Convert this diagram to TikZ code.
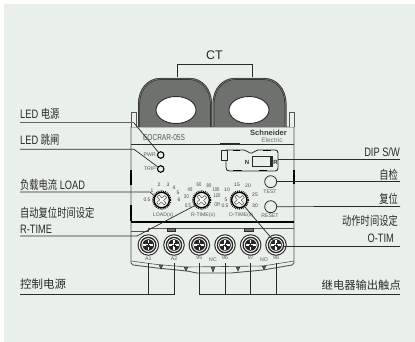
\documentclass[tikz,border=0pt]{standalone}
\usepackage{fontspec}
\usetikzlibrary{shapes.geometric}
\setmainfont{Liberation Sans}
\newfontfamily\cjk{Noto Sans CJK SC}
\definecolor{bgc}{HTML}{E9EFE9}
\definecolor{ctfill}{HTML}{6F716F}
\definecolor{ink}{HTML}{2A2A2A}
\newcommand{\nar}[1]{\scalebox{0.82}[1.08]{#1}}
\tikzset{
  lead/.style={draw=ink,line width=0.7pt},
  body/.style={draw=ink!80,line width=0.9pt},
  lbl/.style={inner sep=0pt,text=ink,font=\fontsize{11.3}{12}\selectfont},
  small/.style={inner sep=0pt,text=black!65,font=\fontsize{5.2}{6}\selectfont},
  tiny/.style={inner sep=0pt,text=black!75,font=\fontsize{5}{5}\selectfont},
  led/.style={circle,draw=black,line width=1.1pt,fill=bgc,minimum size=6.5pt,inner sep=0pt},
  btn/.style={circle,draw=ink,line width=0.8pt,fill=bgc,minimum size=12pt,inner sep=0pt},
  hole/.style={ellipse,draw=ink,line width=0.9pt,fill=white,minimum width=40pt,minimum height=27pt,inner sep=0pt},
}
\begin{document}
\begin{tikzpicture}[x=1pt,y=-1pt]
\useasboundingbox (0,0) rectangle (415,342);
\fill[white] (0,0) rectangle (415,342);
\fill[bgc] (4,4) rectangle (415,342);
% body
\draw[body,fill=bgc] (131,127) -- (131,263) -- (133,265) -- (157,268) -- (187,271) -- (197,273) -- (231,273) -- (263,270) -- (292,265) -- (294,263) -- (294,127) -- cycle;
\draw[ink!80,line width=0.6pt] (131,261) -- (157,264.5) -- (187,267) -- (263,266) -- (294,261);
\foreach \x/\ya/\yb in {161/265/269,186/267/271,213/267/272,238/267/271,264/266/269.5}{\draw[ink,line width=0.5pt,fill=black!60] (\x-1.8,\ya) -- (\x+1.8,\ya) -- (\x,\yb) -- cycle;}
\draw[ink,line width=0.8pt] (131,144) -- (294,144);
\draw[black,line width=1.3pt] (131,222) -- (294,222);
\draw[ink!80,line width=0.7pt] (131,231) -- (148,231) -- (148,228) -- (294,228);
\draw[ink,line width=0.8pt] (220,145) -- (220,143) -- (239,143) -- (239,145);
\draw[black,line width=1.2pt] (131,170) -- (131,185) (131,205) -- (131,221) (294,170) -- (294,184);
% tabs
\draw[body,fill=bgc] (131,127) -- (131,112) -- (136,112) -- (136,127);
\draw[body,fill=bgc] (294,127) -- (294,112) -- (289,112) -- (289,127);
% CT
\foreach \c/\a/\b in {ctl/138/212,ctr/212.5/286.5}{
  \fill[ctfill] (\a,127) -- (\a,104) .. controls (\a,88) and (\a+10,78) .. (\a+22,78) -- (\b-22,78) .. controls (\b-10,78) and (\b,88) .. (\b,104) -- (\b,127) -- cycle;
  \draw[ink,line width=1.8pt] (\a+1,127) -- (\a+1,104) .. controls (\a+1,89) and (\a+11,79) .. (\a+22,79) -- (\b-22,79) .. controls (\b-11,79) and (\b-1,89) .. (\b-1,104) -- (\b-1,127);
  \draw[black!45,line width=0.5pt] (\a+1,127) -- (\a+1,104) .. controls (\a+1,89) and (\a+11,79) .. (\a+22,79) -- (\b-22,79) .. controls (\b-11,79) and (\b-1,89) .. (\b-1,104) -- (\b-1,127);
}
\node[hole] (hl) at (176,110) {};
\node[hole] (hr) at (249,110) {};
\draw[ink,line width=0.7pt] (177.5,77) -- (177.5,64) -- (252.5,64) -- (252.5,77);
\node[lbl,font=\fontsize{12.5}{13}\selectfont] (ct) at (214.5,55) {CT};
% head text
\node[inner sep=0pt,text=black!65,font=\fontsize{8}{9}\selectfont] (model) at (164,138) {\nar{EOCRAR-05S}};
\node[inner sep=0pt,text=black!75,font=\bfseries\fontsize{7.6}{8}\selectfont] (sch) at (268.5,132.5) {Schneider};
\node[inner sep=0pt,text=black!55,font=\fontsize{6.5}{7}\selectfont] (el) at (272,140) {Electric};
% LEDs
\node[led] (pwr) at (160.7,155) {};
\node[led] (trip) at (160.7,169) {};
\node[small,anchor=east] (pwrt) at (156,155) {PWR};
\node[small,anchor=east] (tript) at (156,169) {TRIP};
% DIP
\draw[ink,line width=0.8pt] (226,150) -- (226,167) .. controls (226,170) and (227,171) .. (230,171) -- (275,171) .. controls (277,171) and (278,170) .. (278,168) -- (278,153) .. controls (278,151) and (277,150) .. (275,150) -- (258,150) .. controls (255,150) and (254,153) .. (252,153) -- (250,153) .. controls (248,153) and (247,150) .. (244,150) -- cycle;
\draw[ink,line width=0.8pt,fill=bgc] (221,150) rectangle (227,160);
\draw[black,line width=1.2pt] (233,150.3) -- (240,150.3) (263,150.3) -- (271,150.3) (233,170.7) -- (242,170.7) (259,170.7) -- (267,170.7);
\node[draw=ink,line width=0.9pt,fill=bgc,minimum width=20pt,minimum height=10pt,inner sep=0pt] (sw) at (262,161) {};
\fill[ink] (269.5,156) rectangle (272,166);
\node[inner sep=0pt,text=black!80,font=\bfseries\fontsize{6}{7}\selectfont] (nn) at (247,162) {N};
\node[inner sep=0pt,text=black!80,font=\bfseries\fontsize{6}{7}\selectfont] (rr) at (275.5,162) {R};
% buttons
\node[btn] (test) at (270.7,181.7) {};
\node[small] (testt) at (270,192) {TEST};
\node[btn] (reset) at (270.7,206.7) {};
\node[small] (resett) at (270,215.5) {RESET};
% dials
\foreach \n/\x in {dl/161.7,dr/201.7,do/239.3}{
  \draw[black,line width=1.5pt] (\x,200) circle (7.6);
  \draw[black,line width=1.2pt,dash pattern=on 0.9pt off 1pt] (\x,200) circle (9);
  \fill[bgc] (\x,200) circle (6.8);
  \draw[black!80,line width=3pt,rotate around={40:(\x,200)}] (\x-5.5,200) -- (\x+5.5,200) (\x,194.5) -- (\x,205.5);
  \draw[white,line width=2pt,rotate around={40:(\x,200)}] (\x-5,200) -- (\x+5,200) (\x,195) -- (\x,205);
  \coordinate (\n) at (\x,200);
}
\foreach \t/\p in {0.5/{147,200},1/{152,191},2/{159,185},3/{168,185},4/{174,188},5/{178,193},6/{179,200}}{
  \node[tiny] at (\p) {\t};}
\foreach \t/\p in {0.5/{188,205.5},20/{186.5,197},40/{190,190},60/{199,184.5},80/{209,185.5},100/{216,189.5},120/{217,195.5},Off/{217,205}}{
  \node[tiny] at (\p) {\nar{\t}};}
\foreach \t/\p in {0.5/{225,206},5/{226,200},10/{227,190},15/{237,185},20/{248,186},25/{255,195},30/{255,206}}{
  \node[tiny] at (\p) {\t};}
\node[small] (ll) at (163,215) {LOAD(s)};
\node[small] (lr) at (203,215) {R-TIME(s)};
\node[small] (lo) at (241,215) {O-TIME(s)};
% terminals
\foreach \x/\n in {148.3/ta,174/tb,199.3/tc,225/td,250.7/te,276/tf}{
  \draw[black!80,line width=1.1pt] (\x,245) circle (10.2);
  \fill[white] (\x,245) circle (9.4);
  \draw[black!85,line width=1.3pt] (\x,245) circle (7.6);
  \fill[black!85] (\x,245) circle (5.8);
  \draw[white,line width=1.3pt] (\x-5,245) -- (\x+5,245) (\x,240) -- (\x,250);
  \draw[black!85,line width=0.5pt] (\x-2,245) -- (\x+2,245) (\x,243) -- (\x,247);
  \coordinate (\n) at (\x,263);
}
\draw[ink,fill=black!55,line width=0.6pt] (167,228) rectangle (175,231);
\draw[ink,fill=black!55,line width=0.6pt] (244,228) rectangle (253,231);
\foreach \t/\x/\y in {A1/148.3/259,A2/174/259,95/199.3/258,NC/213/260,96/225/258,97/250.7/258,NO/264/260,98/276/258}{
  \node[small] at (\x,\y) {\t};}
% connector coordinates
\coordinate (a1) at (20,123); \coordinate (a2) at (134,123);
\coordinate (b1) at (20,149.3); \coordinate (b2) at (134,149.3);
\coordinate (c1) at (20,192); \coordinate (c2) at (150,192);
\coordinate (d1) at (20,236); \coordinate (d2) at (137,236);
\coordinate (e1) at (20,294.3);
\coordinate (f2) at (400,294.3);
\coordinate (g2) at (400,159); \coordinate (h2) at (400,181.7); \coordinate (i2) at (400,206.4); \coordinate (j2) at (400,246);
% leaders
\draw[draw=black!60,line width=1pt] (a1) -- (a2);
\draw[lead] (a2) -- (pwr);
\draw[lead] (b1) -- (b2) -- (trip);
\draw[lead] (c1) -- (c2) -- (153.5,195);
\draw[lead] (d1) -- (d2) -- (196,205);
\draw[lead] (245,207) -- (273,240);
\draw[lead] (e1) -| (tb);
\draw[lead] (ta) -- (ta |- e1);
\draw[lead] (f2) -| (tc);
\draw[lead] (td) -- (td |- f2);
\draw[lead] (te) -- (te |- f2);
\draw[lead] (tf) -- (tf |- f2);
\draw[lead] (278,159) -- (g2);
\draw[lead] (test) -- (h2);
\draw[lead] (reset) -- (i2);
\draw[lead] (284,246) -- (j2);
% labels
\node[lbl,anchor=west] (t1) at (20,114) {\nar{LED {\cjk 电源}}};
\node[lbl,anchor=west] (t2) at (20,140) {\nar{LED {\cjk 跳闸}}};
\node[lbl,anchor=west] (t3) at (20,185) {\nar{{\cjk 负载电流} LOAD}};
\node[lbl,anchor=west] (t4) at (20,213) {\nar{\cjk 自动复位时间设定}};
\node[lbl,anchor=west] (t5) at (20,229) {\nar{R-TIME}};
\node[lbl,anchor=west] (t6) at (20,284) {\cjk\fontsize{11.5}{12}\selectfont 控制电源};
\node[lbl,anchor=east] (t7) at (400,152) {\nar{DIP S/W}};
\node[lbl,anchor=east] (t8) at (398,175) {\nar{\cjk 自检}};
\node[lbl,anchor=east] (t9) at (398,199) {\nar{\cjk 复位}};
\node[lbl,anchor=east] (t10) at (398,221) {\nar{\cjk 动作时间设定}};
\node[lbl,anchor=east] (t11) at (394,238.5) {\nar{O-TIM}};
\node[lbl,anchor=east] (t12) at (401,285) {\cjk\fontsize{11.3}{12}\selectfont 继电器输出触点};
\end{tikzpicture}
\end{document}
